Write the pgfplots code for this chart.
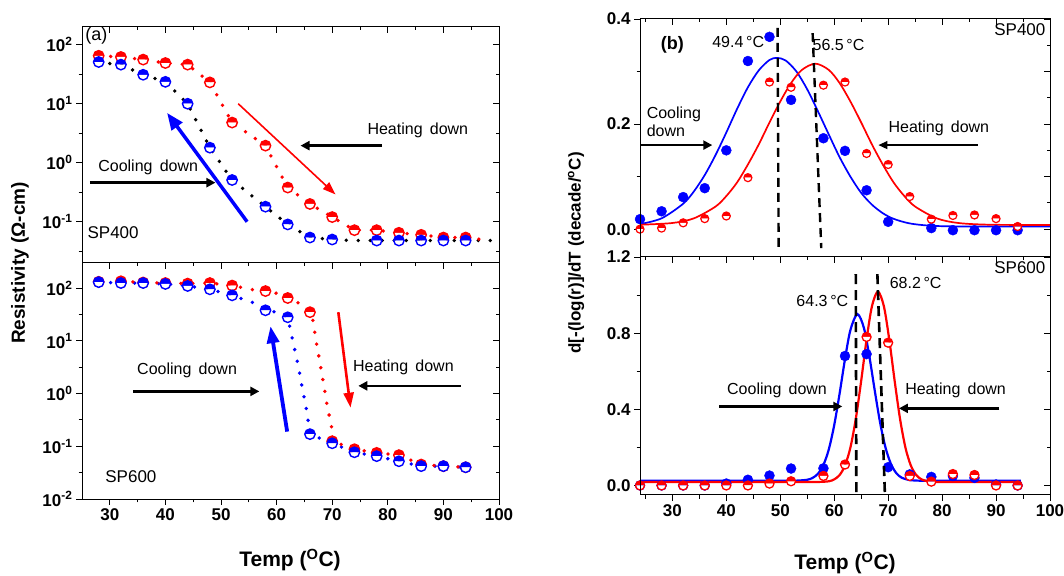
\documentclass[border=0pt]{standalone}
\usepackage{pgfplots}
\pgfplotsset{compat=1.18}
\usepackage{fontspec}
\setmainfont{Liberation Sans}
\usetikzlibrary{arrows.meta,plotmarks}
\definecolor{myred}{RGB}{255,0,0}
\definecolor{myblue}{RGB}{0,0,255}
\tikzset{ann/.style={font=\fontsize{16}{18}\selectfont}}
\pgfplotsset{
  base/.style={scale only axis, anchor=south west,
    axis line style={line width=1pt},
    every tick/.style={black, line width=0.9pt},
    major tick length=6pt, minor tick length=3.5pt,
    tick label style={font=\fontsize{17}{19}\selectfont\bfseries},
    clip mode=individual},
  over/.style={base, xtick pos=right, ytick pos=right, tick align=inside,
    xticklabels={}, yticklabels={}},
  main/.style={base, xtick pos=left, ytick pos=left, tick align=outside},
  dotl/.style={line width=3.8pt, line cap=round, dash pattern=on 0pt off 12pt},
  hm/.style={only marks, mark=halfcircle*, mark size=5.2pt, mark options={draw=#1, fill=#1, line width=1.4pt, solid}},
}
\begin{document}
\begin{tikzpicture}
\useasboundingbox (0,0) rectangle (1064pt,575pt);
% ---------------- (a) top: SP400
\begin{axis}[main, at={(82pt,312pt)}, width=417pt, height=236pt,
  xmin=25, xmax=100, ymode=log, ymin=0.02, ymax=200,
  xtick=\empty, ytick={0.1,1,10,100},
  yticklabels={10\textsuperscript{-1},10\textsuperscript{0},10\textsuperscript{1},10\textsuperscript{2}},
  minor ytick={0.0316,0.316,3.16,31.6}]
\addplot[black, dotl] coordinates {(30,48)(32,46)(36,31)(40,23.5)(44,10)(48,1.8)(52,0.51)(58,0.18)(62,0.09)(66,0.054)(70,0.05)(74,0.048)(78,0.048)(82,0.048)(86,0.048)(90,0.048)(94,0.048)(99,0.048)};
\addplot[myred, dotl] coordinates {(28,65)(32,62)(36,56)(40,49)(44,46)(48,23)(52,4.8)(58,1.95)(62,0.38)(66,0.20)(70,0.12)(74,0.072)(78,0.072)(82,0.065)(86,0.06)(90,0.054)(94,0.054)(97,0.05)};
\addplot[hm=myred] coordinates {(28,65)(32,62)(36,56)(40,49)(44,46)(48,23)(52,4.8)(58,1.95)(62,0.38)(66,0.20)(70,0.12)(74,0.072)(78,0.072)(82,0.065)(86,0.06)(90,0.054)(94,0.054)};
\addplot[hm=myblue] coordinates {(28,51)(32,46)(36,31)(40,23.5)(44,10)(48,1.8)(52,0.51)(58,0.18)(62,0.09)(66,0.054)(70,0.05)(78,0.048)(82,0.048)(86,0.048)(90,0.048)(94,0.048)};
\draw[myblue, line width=3.5pt, -{Triangle[length=17pt,width=13pt]}] (axis cs:54.7,0.1) -- (axis cs:40.3,7.0);
\draw[myred, line width=1.6pt, -{Triangle[length=13pt,width=9pt]}] (axis cs:53.1,10) -- (axis cs:70.6,0.29);
\draw[black, line width=2.6pt, -{Triangle[length=9pt,width=9pt]}] (axis cs:79,1.95) -- (axis cs:64.3,1.95);
\draw[black, line width=2.6pt, -{Triangle[length=9pt,width=9pt]}] (axis cs:26.4,0.46) -- (axis cs:49,0.46);
\node[ann] at (axis cs:85.4,3.6) {Heating\hspace{0.45em}down};
\node[ann] at (axis cs:36.9,0.85) {Cooling\hspace{0.45em}down};
\node[ann, font=\fontsize{17}{19}\selectfont] at (axis cs:30.6,0.065) {SP400};
\node[ann, font=\fontsize{18}{20}\selectfont] at (axis cs:27.6,140) {(a)};
\end{axis}
\begin{axis}[over, at={(82pt,312pt)}, width=417pt, height=236pt,
  xmin=25, xmax=100, ymode=log, ymin=0.02, ymax=200,
  xtick={30,40,...,100}, minor xtick={35,45,...,95}, ytick={0.1,1,10,100},
  minor ytick={0.0316,0.316,3.16,31.6}]
\end{axis}
% ---------------- (a) bottom: SP600
\begin{axis}[main, at={(82pt,76pt)}, width=417pt, height=236pt,
  xmin=25, xmax=100, ymode=log, ymin=0.01, ymax=300,
  xtick={30,40,...,100}, xticklabels={30,40,50,60,70,80,90,100}, minor xtick={35,45,...,95},
  ytick={0.01,0.1,1,10,100},
  yticklabels={10\textsuperscript{-2},10\textsuperscript{-1},10\textsuperscript{0},10\textsuperscript{1},10\textsuperscript{2}},
  minor ytick={0.0316,0.316,3.16,31.6}]
\addplot[myblue, dotl] coordinates {(28,130)(32,125)(36,125)(40,120)(44,110)(48,95)(52,73)(56,52)(58,38)(60,35)(62,28)(63,9.2)(63.9,3.3)(64.6,1.3)(65.4,0.48)(66,0.17)(70,0.114)(74,0.077)(78,0.065)(82,0.052)(86,0.042)(90,0.042)(94,0.040)};
\addplot[myred, dotl] coordinates {(32,135)(36,128)(40,125)(44,122)(48,125)(52,112)(56,92)(58,88)(60,80)(62,65)(64,52)(66,35)(66.5,26)(67,11.4)(67.7,4.4)(68.4,1.65)(69.1,0.59)(69.9,0.23)(70,0.125)(74,0.088)(78,0.075)(82,0.068)(86,0.045)(90,0.042)(94,0.040)};
\addplot[hm=myred] coordinates {(28,132)(32,135)(36,128)(40,125)(44,122)(48,125)(52,112)(58,88)(62,65)(66,35)(70,0.125)(74,0.088)(78,0.075)(82,0.068)(86,0.045)(90,0.042)(94,0.040)};
\addplot[hm=myblue] coordinates {(28,130)(32,125)(36,125)(40,120)(44,110)(48,95)(52,73)(58,38)(62,28)(66,0.17)(70,0.114)(74,0.077)(78,0.065)(82,0.052)(86,0.042)(90,0.042)(94,0.040)};
\draw[myblue, line width=3.8pt, -{Triangle[length=17pt,width=12pt]}] (axis cs:61.9,0.19) -- (axis cs:58.9,19);
\draw[myred, line width=2.6pt, -{Triangle[length=15pt,width=10pt]}] (axis cs:71.1,35) -- (axis cs:73.3,0.54);
\draw[black, line width=2.6pt, -{Triangle[length=9pt,width=9pt]}] (axis cs:34.2,1.1) -- (axis cs:56.9,1.1);
\draw[black, line width=2.6pt, -{Triangle[length=9pt,width=9pt]}] (axis cs:93.1,1.4) -- (axis cs:74.7,1.4);
\node[ann] at (axis cs:43.9,2.8) {Cooling\hspace{0.45em}down};
\node[ann] at (axis cs:82.8,3.2) {Heating\hspace{0.45em}down};
\node[ann, font=\fontsize{17}{19}\selectfont] at (axis cs:33.8,0.027) {SP600};
\end{axis}
\begin{axis}[over, at={(82pt,76pt)}, width=417pt, height=236pt,
  xmin=25, xmax=100, ymode=log, ymin=0.01, ymax=300,
  xtick={30,40,...,100}, minor xtick={35,45,...,95}, ytick={0.01,0.1,1,10,100},
  minor ytick={0.0316,0.316,3.16,31.6}]
\end{axis}
% ---------------- (b) top: SP400
\begin{axis}[main, at={(640pt,318pt)}, width=410pt, height=238pt,
  xmin=24, xmax=100, ymin=-0.053, ymax=0.4,
  xtick=\empty, ytick={0,0.2,0.4}, yticklabels={0.0,0.2,0.4}, minor ytick={0.1,0.3}]
\addplot[myblue, line width=1.7pt, smooth] coordinates {(24,0.0095)(28,0.0206)(32,0.0484)(34,0.072)(36,0.103)(38,0.141)(40,0.184)(42,0.229)(44,0.270)(46,0.302)(48,0.322)(49.4,0.326)(51,0.321)(53,0.300)(55,0.266)(57,0.224)(59,0.180)(61,0.137)(63,0.100)(65,0.069)(67,0.0465)(69,0.0304)(71,0.0197)(74,0.0109)(78,0.0064)(83,0.0052)(90,0.005)(100,0.005)};
\addplot[myred, line width=1.7pt, smooth] coordinates {(24,0.0084)(30,0.0117)(34,0.0206)(38,0.043)(40,0.063)(42,0.089)(44,0.123)(46,0.161)(48,0.203)(50,0.243)(52,0.278)(54,0.303)(56.5,0.315)(59,0.303)(61,0.278)(63,0.243)(65,0.203)(67,0.161)(69,0.123)(71,0.089)(73,0.063)(75,0.043)(79,0.0206)(83,0.0117)(89,0.0084)(100,0.008)};
\addplot[only marks, mark=*, mark size=5pt, myblue] coordinates {(24,0.019)(28,0.034)(32,0.061)(36,0.078)(40,0.150)(44,0.32)(48,0.366)(52,0.246)(58,0.173)(62,0.149)(66,0.074)(70,0.014)(78,0.002)(82,-0.002)(86,-0.002)(90,-0.002)(94,-0.002)};
\addplot[only marks, mark=halfcircle*, mark size=4pt, mark options={draw=myred, fill=myred, line width=1.2pt}] coordinates {(24,0.0)(28,0.002)(32,0.012)(36,0.02)(40,0.025)(44,0.098)(48,0.28)(52,0.27)(58,0.274)(62,0.28)(66,0.144)(70,0.123)(74,0.062)(78,0.019)(82,0.026)(86,0.027)(90,0.02)(94,0.005)};
\draw[black, line width=2.4pt, dash pattern=on 9pt off 6pt] (axis cs:49.5,0.383) -- (axis cs:49.7,-0.036);
\draw[black, line width=2.4pt, dash pattern=on 9pt off 6pt] (axis cs:56.0,0.373) -- (axis cs:57.6,-0.036);
\draw[black, line width=2.6pt, -{Triangle[length=9pt,width=9pt]}] (axis cs:24,0.16) -- (axis cs:37.4,0.16);
\draw[black, line width=1.3pt, -{Triangle[length=9pt,width=8pt]}] (axis cs:86.6,0.16) -- (axis cs:68.2,0.16);
\node[ann] at (axis cs:42.2,0.356) {49.4\,°C};
\node[ann] at (axis cs:60.8,0.35) {56.5\,°C};
\node[ann, font=\fontsize{18}{20}\selectfont\bfseries] at (axis cs:30,0.35) {(b)};
\node[ann, font=\fontsize{17}{19}\selectfont, anchor=north east] at (axis cs:99.8,0.398) {SP400};
\node[ann, align=left, anchor=west] at (axis cs:24.6,0.204) {Cooling\\down};
\node[ann] at (axis cs:79.4,0.192) {Heating\hspace{0.45em}down};
\end{axis}
\begin{axis}[over, at={(640pt,318pt)}, width=410pt, height=238pt,
  xmin=24, xmax=100, ymin=-0.053, ymax=0.4,
  xtick={30,40,...,100}, minor xtick={25,35,...,95}, ytick={0,0.1,...,0.4}, minor ytick={0.05,0.15,...,0.35}]
\end{axis}
% ---------------- (b) bottom: SP600
\begin{axis}[main, at={(640pt,80pt)}, width=410pt, height=238pt,
  xmin=24, xmax=100, ymin=-0.05, ymax=1.2,
  xtick={30,40,...,100}, xticklabels={30,40,50,60,70,80,90,100}, minor xtick={25,35,...,95},
  ytick={0,0.4,0.8,1.2}, yticklabels={0.0,0.4,0.8,1.2}, minor ytick={0.2,0.6,1.0}]
\addplot[myblue, line width=2.2pt, smooth] coordinates {(24,0.025)(40,0.025)(50,0.025)(53,0.0255)(55,0.030)(56,0.040)(57,0.062)(58,0.108)(59,0.190)(60,0.317)(61,0.483)(62,0.664)(63,0.816)(64.3,0.900)(65.5,0.828)(66.5,0.681)(67.5,0.501)(68.5,0.331)(69.5,0.200)(70.5,0.114)(71.5,0.065)(72.5,0.041)(74,0.028)(75,0.026)(77,0.025)(85,0.025)(94.6,0.025)};
\addplot[myred, line width=2.2pt, smooth] coordinates {(24,0.018)(40,0.018)(54,0.018)(57,0.0185)(59,0.022)(60,0.032)(61,0.055)(62,0.105)(63,0.199)(64,0.350)(65,0.550)(66,0.767)(67,0.942)(68.1,1.018)(69.2,0.942)(70.2,0.767)(71.2,0.550)(72.2,0.350)(73.2,0.199)(74.2,0.105)(75.2,0.055)(76.2,0.032)(77.5,0.021)(79,0.018)(85,0.018)(94.6,0.018)};
\addplot[only marks, mark=*, mark size=5pt, myblue] coordinates {(24,0)(28,0)(32,0)(36,0)(40,0.01)(44,0.03)(48,0.052)(52,0.089)(58,0.09)(62,0.68)(66,0.69)(70,0.096)(74,0.058)(78,0.045)(82,0.05)(86,0.04)(90,0.005)(94,0)};
\addplot[only marks, mark=halfcircle*, mark size=4.5pt, mark options={draw=myred, fill=myred, line width=1.3pt}] coordinates {(24,0)(28,0)(32,0)(36,0)(40,0)(44,0)(48,0.01)(52,0.022)(58,0.05)(62,0.11)(66,0.78)(70,0.75)(74,0.05)(78,0.02)(82,0.06)(86,0.055)(90,0)(94,0)};
\draw[black, line width=2.6pt, dash pattern=on 10pt off 6pt] (axis cs:64.0,1.11) -- (axis cs:64.1,-0.05);
\draw[black, line width=2.6pt, dash pattern=on 10pt off 6pt] (axis cs:68.0,1.11) -- (axis cs:69.4,-0.05);
\draw[black, line width=2.6pt, -{Triangle[length=9pt,width=9pt]}] (axis cs:38.7,0.415) -- (axis cs:61.5,0.415);
\draw[black, line width=2.6pt, -{Triangle[length=9pt,width=9pt]}] (axis cs:90.6,0.405) -- (axis cs:72.0,0.405);
\node[ann] at (axis cs:57.8,0.967) {64.3\,°C};
\node[ann] at (axis cs:75.1,1.063) {68.2\,°C};
\node[ann, font=\fontsize{17}{19}\selectfont, anchor=north east] at (axis cs:99.8,1.195) {SP600};
\node[ann] at (axis cs:49.4,0.497) {Cooling\hspace{0.45em}down};
\node[ann] at (axis cs:82.5,0.497) {Heating\hspace{0.45em}down};
\end{axis}
\begin{axis}[over, at={(640pt,80pt)}, width=410pt, height=238pt,
  xmin=24, xmax=100, ymin=-0.05, ymax=1.2,
  xtick={30,40,...,100}, minor xtick={25,35,...,95}, ytick={0,0.4,0.8,1.2}, minor ytick={0.2,0.6,1.0}]
\end{axis}
% ---------------- axis titles
\node[font=\fontsize{21}{23}\selectfont\bfseries] at (290pt,15pt) {Temp (\textsuperscript{O}C)};
\node[font=\fontsize{21}{23}\selectfont\bfseries] at (845pt,12pt) {Temp (\textsuperscript{O}C)};
\node[font=\fontsize{19}{21}\selectfont\bfseries, rotate=90] at (20pt,312pt) {Resistivity (Ω-cm)};
\node[font=\fontsize{17}{19}\selectfont\bfseries, rotate=90] at (576pt,322pt) {d[-(log(r)]/dT (decade/\textsuperscript{o}C)};
\end{tikzpicture}
\end{document}
